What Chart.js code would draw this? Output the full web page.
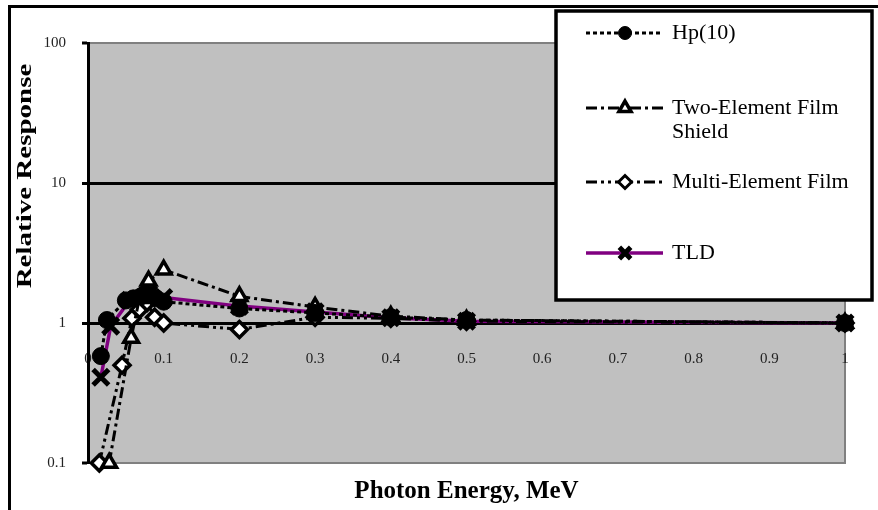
<!DOCTYPE html>
<html>
<head>
<meta charset="utf-8">
<script src="https://cdn.jsdelivr.net/npm/chart.js@4.4.1/dist/chart.umd.min.js"></script>
<style>
  html, body { margin: 0; padding: 0; background: #fff; }
  #wrap { width: 878px; height: 510px; }
</style>
</head>
<body>
<div id="wrap"><canvas id="chart" width="878" height="510"></canvas></div>
<script>
// Photon energy (MeV) and relative response for each dosemeter
const hpEnergy = [0.017, 0.025, 0.05, 0.06, 0.07, 0.08, 0.09, 0.1, 0.2, 0.3, 0.4, 0.5, 1.0];
const hpResponse = [0.58, 1.05, 1.45, 1.5, 1.55, 1.6, 1.5, 1.42, 1.27, 1.18, 1.1, 1.05, 1.0];

const twoEnergy = [0.028, 0.057, 0.068, 0.08, 0.1, 0.2, 0.3, 0.4, 0.5, 1.0];
const twoResponse = [0.1, 0.78, 1.5, 2.0, 2.4, 1.55, 1.3, 1.12, 1.05, 1.0];

const multiEnergy = [0.015, 0.045, 0.058, 0.068, 0.078, 0.088, 0.1, 0.2, 0.3, 0.4, 0.5, 1.0];
const multiResponse = [0.1, 0.5, 1.08, 1.25, 1.4, 1.1, 1.0, 0.9, 1.1, 1.08, 1.03, 1.0];

const tldEnergy = [0.017, 0.03, 0.055, 0.08, 0.1, 0.2, 0.3, 0.4, 0.5, 1.0];
const tldResponse = [0.41, 0.95, 1.45, 1.62, 1.52, 1.32, 1.2, 1.09, 1.03, 1.0];

const yTicks = [0.1, 1, 10, 100];
const yTitle = 'Relative Response';
const legendLines = [['Hp(10)'], ['Two-Element Film', 'Shield'], ['Multi-Element Film'], ['TLD']];

const SERIF = '"Liberation Serif", "Times New Roman", serif';
Chart.defaults.font.family = SERIF;
Chart.defaults.color = '#222';

const pts = (xs, ys) => xs.map((x, i) => ({ x, y: ys[i] }));

// grey plot area, outer frame lines and the stretched y title
const backdrop = {
  id: 'backdrop',
  beforeDraw(chart) {
    const { ctx, chartArea: a } = chart;
    ctx.save();
    ctx.fillStyle = '#c0c0c0';
    ctx.fillRect(a.left, a.top, a.right - a.left, a.bottom - a.top);
    ctx.strokeStyle = '#808080';
    ctx.lineWidth = 2;
    ctx.beginPath();
    ctx.moveTo(a.left, a.top); ctx.lineTo(a.right, a.top);
    ctx.lineTo(a.right, a.bottom); ctx.lineTo(a.left, a.bottom);
    ctx.stroke();
    ctx.strokeStyle = '#000';
    ctx.lineWidth = 3;
    ctx.beginPath();
    ctx.moveTo(9.5, 510); ctx.lineTo(9.5, 6.5); ctx.lineTo(878, 6.5);
    ctx.stroke();

    ctx.translate(26, 176);
    ctx.rotate(-Math.PI / 2);
    ctx.scale(1.45, 1);
    ctx.font = 'bold 20px ' + SERIF;
    ctx.fillStyle = '#000';
    ctx.textAlign = 'center';
    ctx.textBaseline = 'middle';
    ctx.fillText(yTitle, 0, 0);
    ctx.restore();
  }
};

// boxed legend drawn over the top right of the plot
const boxLegend = {
  id: 'boxLegend',
  afterDraw(chart) {
    const ctx = chart.ctx;
    const rows = [33, 108, 182, 253];
    ctx.save();
    ctx.fillStyle = '#fff';
    ctx.fillRect(556, 11, 316, 289);
    ctx.strokeStyle = '#000';
    ctx.lineWidth = 3.5;
    ctx.strokeRect(556, 11, 316, 289);
    chart.data.datasets.forEach((ds, i) => {
      const y = rows[i];
      ctx.save();
      ctx.strokeStyle = ds.borderColor;
      ctx.lineWidth = ds.borderWidth;
      ctx.setLineDash(ds.borderDash || []);
      ctx.beginPath();
      ctx.moveTo(586, y); ctx.lineTo(663, y);
      ctx.stroke();
      ctx.setLineDash([]);
      ctx.fillStyle = ds.pointBackgroundColor;
      ctx.strokeStyle = ds.pointBorderColor;
      ctx.lineWidth = ds.legendBorderWidth;
      Chart.helpers.drawPoint(ctx, {
        pointStyle: ds.pointStyle, radius: ds.legendRadius,
        borderWidth: ds.legendBorderWidth, rotation: 0
      }, 625, y);
      ctx.restore();
      ctx.fillStyle = '#000';
      ctx.font = '22px ' + SERIF;
      ctx.textBaseline = 'middle';
      legendLines[i].forEach((t, k) => ctx.fillText(t, 672, y + k * 24));
    });
    ctx.restore();
  }
};

new Chart(document.getElementById('chart'), {
  type: 'line',
  data: {
    datasets: [
      {
        label: 'Hp(10)', data: pts(hpEnergy, hpResponse),
        borderColor: '#000', borderWidth: 3, borderDash: [4, 3],
        pointStyle: 'circle', pointRadius: 8.5,
        pointBackgroundColor: '#000', pointBorderColor: '#000', pointBorderWidth: 1,
        legendRadius: 6.5, legendBorderWidth: 1
      },
      {
        label: 'Two-Element Film Shield', data: pts(twoEnergy, twoResponse),
        borderColor: '#000', borderWidth: 3, borderDash: [11, 4, 3, 4],
        pointStyle: 'triangle', pointRadius: 8.5,
        pointBackgroundColor: '#fff', pointBorderColor: '#000', pointBorderWidth: 3.5,
        legendRadius: 7, legendBorderWidth: 3.5
      },
      {
        label: 'Multi-Element Film', data: pts(multiEnergy, multiResponse),
        borderColor: '#000', borderWidth: 3, borderDash: [11, 4, 3, 4, 3, 4],
        pointStyle: 'rectRot', pointRadius: 8,
        pointBackgroundColor: '#fff', pointBorderColor: '#000', pointBorderWidth: 3.5,
        legendRadius: 6.5, legendBorderWidth: 3
      },
      {
        label: 'TLD', data: pts(tldEnergy, tldResponse),
        borderColor: '#800080', borderWidth: 3.5,
        pointStyle: 'crossRot', pointRadius: 11,
        pointBackgroundColor: '#000', pointBorderColor: '#000', pointBorderWidth: 5,
        legendRadius: 8, legendBorderWidth: 5
      }
    ]
  },
  options: {
    responsive: false,
    animation: false,
    events: [],
    layout: { padding: { left: 0, top: 43, right: 33, bottom: 0 } },
    elements: { line: { tension: 0 } },
    datasets: { line: { clip: false } },
    plugins: {
      legend: { display: false },
      tooltip: { enabled: false },
      title: {
        display: true, position: 'bottom', fullSize: false,
        text: 'Photon Energy, MeV', color: '#000',
        font: { size: 25, weight: 'bold', family: SERIF, lineHeight: 1.2 },
        padding: { top: 14, bottom: 3 }
      }
    },
    scales: {
      x: {
        type: 'linear', position: { y: 1 },
        min: 0, max: 1,
        ticks: {
          stepSize: 0.1, autoSkip: false, maxRotation: 0, padding: 27,
          font: { size: 15 }, color: '#222',
          callback: v => String(+v.toFixed(1))
        },
        grid: { display: false, drawTicks: false },
        border: { display: true, color: '#000', width: 3 },
        afterFit: s => { s.height = 0; }
      },
      y: {
        type: 'logarithmic', position: 'left',
        min: 0.1, max: 100,
        afterBuildTicks: s => { s.ticks = yTicks.map(v => ({ value: v })); },
        afterFit: s => { s.width = 88; },
        ticks: {
          padding: 16, font: { size: 15 }, color: '#222',
          callback: v => String(v)
        },
        grid: {
          color: c => (c.tick && (c.tick.value === 1 || c.tick.value === 10)) ? '#000' : '#808080',
          lineWidth: c => (c.tick && (c.tick.value === 1 || c.tick.value === 10)) ? 3 : 2,
          tickColor: '#000', tickLength: 6, tickWidth: 3
        },
        border: { color: '#000', width: 3 }
      }
    }
  },
  plugins: [backdrop, boxLegend]
});
</script>
</body>
</html>
